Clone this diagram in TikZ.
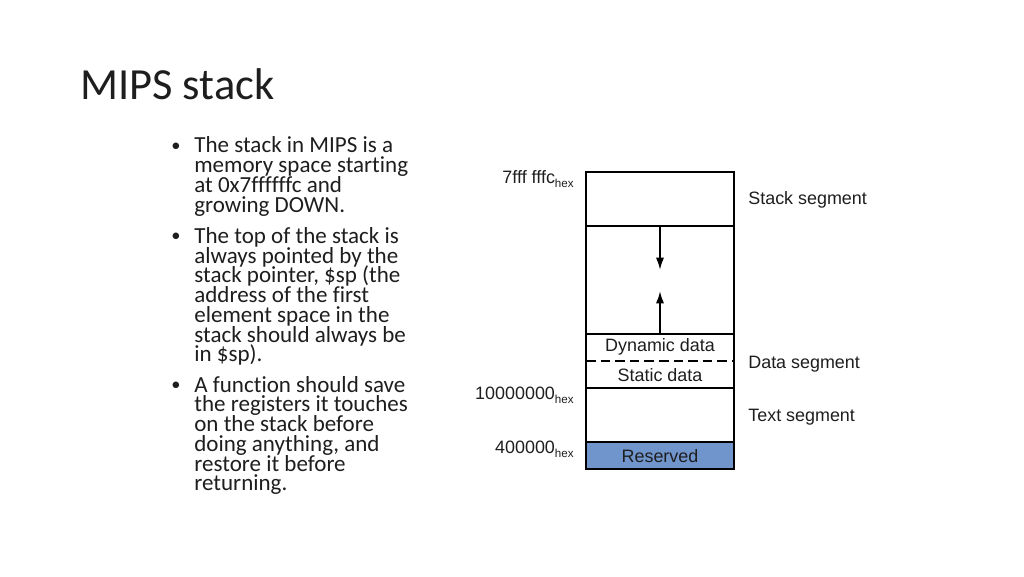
\documentclass[tikz,border=0pt]{standalone}
\usepackage{fontspec}
\setmainfont{Carlito}[Ligatures=NoCommon]
\newfontfamily\arialfont{Liberation Sans}
\usetikzlibrary{positioning,arrows.meta}

\definecolor{resblue}{HTML}{7094CC}
\definecolor{inkgray}{HTML}{1E1E1E}
\newcommand{\hexsub}{\raisebox{-0.45ex}{\fontsize{6.6}{7}\selectfont hex}}
\newcommand{\tightlines}{\lineskiplimit=-20pt\relax\lineskip=0pt\relax}

\begin{document}
\begin{tikzpicture}[
  x=0.02cm, y=-0.02cm,
  seg/.style={draw, line width=1.1pt, minimum width=2.96cm, inner sep=0pt, outer sep=0pt},
  lbl/.style={inner sep=0pt, text=inkgray, font=\arialfont\fontsize{10.2}{12}\selectfont},
  addr/.style={lbl, anchor=base east},
  side/.style={lbl, anchor=base west},
  para/.style={anchor=base west, inner sep=0pt, align=left, text=inkgray,
    font=\fontsize{13.1}{11.22}\selectfont\tightlines},
  dot/.style={anchor=base, inner sep=0pt, text=inkgray, font=\fontsize{10.5}{11}\selectfont},
  arrow/.style={-{Latex[length=7pt,width=4.6pt]}, line width=1.1pt},
  node distance=0pt
]
\useasboundingbox[fill=white] (0,0) rectangle (1024,576);

% title and bullet text (paragraphs sit on their last line)
\node[anchor=base west, inner sep=0pt, text=inkgray, font=\fontsize{25.3}{30}\selectfont] (title) at (80,99) {MIPS stack};

\node[dot] (b1) at (176,151.5) {•};
\node[para] (p1) at (194,212.1) {The stack in MIPS is a\\memory space starting\\at 0x7ffffffc and\\growing DOWN.};
\node[dot] (b2) at (176,241.8) {•};
\node[para] (p2) at (194,361.8) {The top of the stack is\\always pointed by the\\stack pointer, \$sp (the\\address of the first\\element space in the\\stack should always be\\in \$sp).};
\node[dot] (b3) at (176,390.5) {•};
\node[para] (p3) at (194,490.7) {A function should save\\the registers it touches\\on the stack before\\doing anything, and\\restore it before\\returning.};

% memory layout
\node[seg, minimum height=1.08cm, anchor=north west] (stack) at (586,172) {};
\node[seg, minimum height=2.16cm, below=of stack] (free) {};
\node[seg, minimum height=1.08cm, below=of free] (data) {};
\node[seg, minimum height=1.08cm, below=of data] (text) {};
\node[seg, minimum height=0.54cm, below=of text, fill=resblue] (res) {};

\draw[line width=0.9pt, dash pattern=on 5.5pt off 2.8pt] (data.west) -- (data.east);

\node[lbl, anchor=base] (dyn) at (660,351.5) {Dynamic data};
\node[lbl, anchor=base] (stat) at (660,381) {Static data};
\node[lbl, anchor=base] (resl) at (660,462) {Reserved};

\coordinate (downtip) at (660,270);
\coordinate (uptip) at (660,291);
\draw[arrow] (free.north) -- (downtip);
\draw[arrow] (free.south) -- (uptip);

% addresses
\node[addr] (atop) at (574,183) {7fff fffc\hexsub};
\node[addr] (adata) at (574,399) {10000000\hexsub};
\node[addr] (atext) at (574,453) {400000\hexsub};

% segment names
\node[side] (sstack) at (748,204) {Stack segment};
\node[side] (sdata) at (748,368) {Data segment};
\node[side] (stext) at (748,421) {Text segment};
\end{tikzpicture}
\end{document}
